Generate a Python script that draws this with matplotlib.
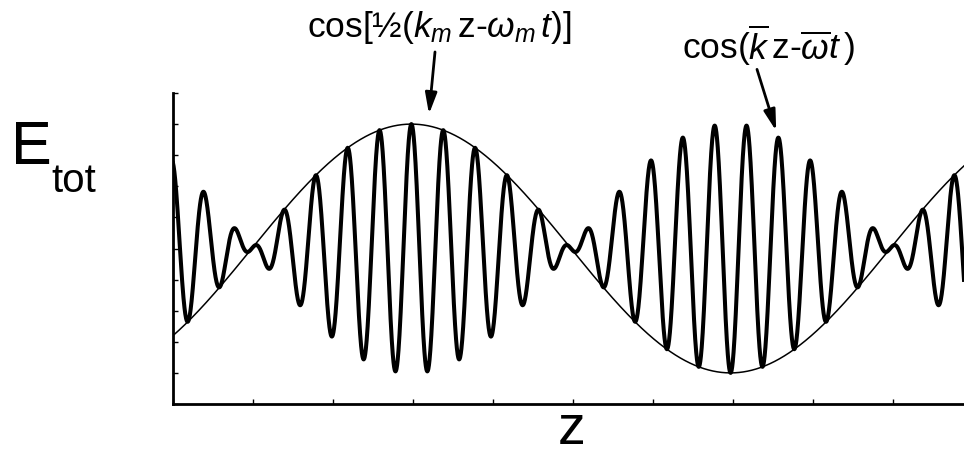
import matplotlib
matplotlib.use("Agg")
import matplotlib.pyplot as plt
import numpy as np

plt.rcParams["font.family"] = ["Liberation Sans", "DejaVu Sans"]
plt.rcParams["mathtext.fontset"] = "custom"
plt.rcParams["mathtext.rm"] = "Liberation Sans"
plt.rcParams["mathtext.it"] = "Liberation Sans:italic"

# wave parameters (z in tick units)
z_peak = 2.98            # envelope maximum
envelope_period = 7.98   # period of cos[1/2(k_m z - w_m t)]
carrier_per_envelope = 20
z_range = [0.0, 9.8875]
y_range = [-1.25, 1.25]
x_ticks = list(range(0, 10))
y_ticks = [-1.25, -1.0, -0.75, -0.5, -0.25, 0.0, 0.25, 0.5, 0.75, 1.0, 1.25]

envelope_label = r"cos[½($k_{m}\,$z-$\omega_{m}\,t$)]"
carrier_label = r"cos($\overline{k}\,$z-$\overline{\omega}t\,$)"

carrier_period = envelope_period / carrier_per_envelope
z = np.linspace(z_range[0], z_range[1], 4000)
envelope = np.cos(2 * np.pi * (z - z_peak) / envelope_period)
e_tot = envelope * np.cos(2 * np.pi * (z - z_peak) / carrier_period)

W, H = 964, 456
fig = plt.figure(figsize=(W / 100, H / 100), dpi=100)
ax = fig.add_axes([173 / W, 1 - 405 / H, 1 - 173 / W, (405 - 94) / H])

ax.plot(z, e_tot, color="black", lw=2.9, solid_joinstyle="round")
ax.plot(z, envelope, color="black", lw=1.1)

ax.set_xlim(z_range)
ax.set_ylim(y_range)
ax.set_xticks(x_ticks)
ax.set_yticks(y_ticks)
ax.set_xticklabels([])
ax.set_yticklabels([])
ax.tick_params(direction="in", length=3.5, width=1.0, color="black")
for side in ("top", "right"):
    ax.spines[side].set_visible(False)
for side in ("left", "bottom"):
    ax.spines[side].set_linewidth(2.0)

# axis labels
fig.text(11 / W, 1 - 164 / H, "E", fontsize=44, va="baseline", ha="left")
fig.text(51 / W, 1 - 192 / H, "tot", fontsize=29, va="baseline", ha="left")
fig.text(572 / W, 1 - 444 / H, "z", fontsize=40, va="baseline", ha="center")

# annotations
fig.text(307 / W, 1 - 37 / H, envelope_label, fontsize=25.5, va="baseline", ha="left")
fig.text(682 / W, 1 - 59 / H, carrier_label, fontsize=25.5, va="baseline", ha="left")

arrow = dict(arrowstyle="-|>,head_length=0.9,head_width=0.25", color="black",
             lw=2.0, mutation_scale=14, shrinkA=0, shrinkB=0)
ax.annotate("", xy=(3.2, 1.08), xytext=(3.275, 1.58), xycoords="data",
            arrowprops=arrow, annotation_clip=False)
ax.annotate("", xy=(7.54, 0.945), xytext=(7.3, 1.44), xycoords="data",
            arrowprops=arrow, annotation_clip=False)

fig.savefig("out.png", dpi=100)
